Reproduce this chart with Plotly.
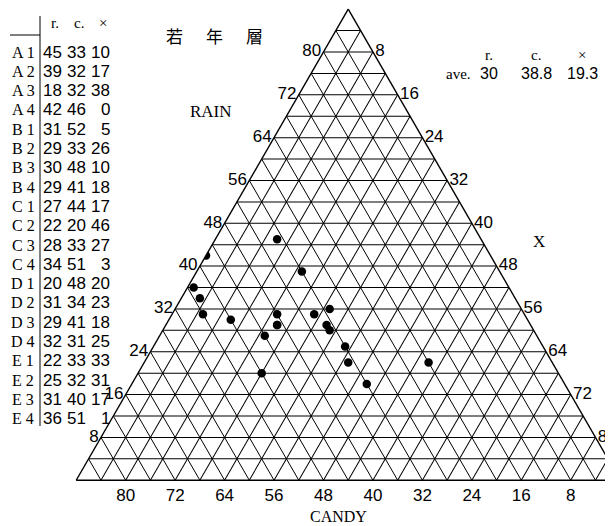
import plotly.graph_objects as go

# ---- data ----
names = ["A1", "A2", "A3", "A4", "B1", "B2", "B3", "B4", "C1", "C2",
         "C3", "C4", "D1", "D2", "D3", "D4", "E1", "E2", "E3", "E4"]
rain = [45, 39, 18, 42, 31, 29, 30, 29, 27, 22, 28, 34, 20, 31, 29, 32, 22, 25, 31, 36]
candy = [33, 32, 32, 46, 52, 33, 48, 41, 44, 20, 33, 51, 48, 34, 41, 31, 33, 32, 40, 51]
xval = [10, 17, 38, 0, 5, 26, 10, 18, 17, 46, 27, 3, 20, 23, 18, 25, 33, 31, 17, 1]
total = 88
col_heads = ["r.", "c.", "×"]
ave_vals = ["30", "38.8", "19.3"]
title_chars = ["若", "年", "層"]
grid_vals = list(range(4, 88, 4))
grid_text = [str(v) if v % 8 == 0 else "" for v in grid_vals]

NUM_FONT = "Liberation Sans Narrow, Arial Narrow, Liberation Sans, sans-serif"
SERIF = "Liberation Serif, Times New Roman, serif"

fig = go.Figure()
fig.add_trace(go.Scatterternary(
    a=rain, b=candy, c=xval, mode="markers",
    marker=dict(color="black", size=8.5),
    hovertext=names, showlegend=False,
))

axis_common = dict(
    tickmode="array", tickvals=grid_vals, ticktext=grid_text,
    ticks="", ticklen=0, showgrid=True, gridcolor="black", gridwidth=1.2,
    linecolor="black", linewidth=1.4, min=0,
    tickfont=dict(family=NUM_FONT, size=17, color="black"),
    title=dict(text=""),
)

fig.update_layout(
    width=613, height=526,
    margin=dict(l=0, r=0, t=0, b=0),
    paper_bgcolor="white",
    ternary=dict(
        sum=total,
        domain=dict(x=[0.1113, 0.9987], y=[0.10, 1.0]),
        bgcolor="white",
        aaxis=axis_common,
        baxis=axis_common,
        caxis=axis_common,
    ),
)

ann = []
# axis titles
ann.append(dict(x=203, y=103, text="RAIN", font=dict(family=SERIF, size=17, color="black")))
ann.append(dict(x=330, y=508, text="CANDY", font=dict(family=SERIF, size=16, color="black")))
ann.append(dict(x=531, y=234, text="X", font=dict(family=SERIF, size=17, color="black")))
for i, ch in enumerate(title_chars):
    ann.append(dict(x=166 + 40 * i, y=27, text=ch,
                    font=dict(family="Noto Sans CJK JP", size=17, color="black")))

# average block
avg_x = [481, 528, 574]
for i, h in enumerate(col_heads):
    ann.append(dict(x=avg_x[i], y=47, text=h, font=dict(family=SERIF, size=15, color="black")))
    ann.append(dict(x=avg_x[i], y=66, text=ave_vals[i], font=dict(family=NUM_FONT, size=16, color="black")))
ann.append(dict(x=450, y=66, text="ave.", font=dict(family=SERIF, size=15, color="black")))

# left table
row_y0 = 44
row_dy = 19.3
tab_right = [56, 80, 104]
for i, h in enumerate(col_heads):
    ann.append(dict(x=tab_right[i] - 9, y=15, text=h, font=dict(family=SERIF, size=15, color="black")))
for j, nm in enumerate(names):
    y = row_y0 + row_dy * j
    ann.append(dict(x=15, y=y, text=nm[0] + " " + nm[1],
                    font=dict(family=SERIF, size=16, color="black")))
    vals = [rain[j], candy[j], xval[j]]
    for i, v in enumerate(vals):
        ann.append(dict(x=tab_right[i], y=y, text=str(v), xanchor="right",
                        font=dict(family=NUM_FONT, size=17, color="black")))

for a in ann:
    a.setdefault("xanchor", "center")
    a.update(xref="paper", yref="paper", showarrow=False, yanchor="middle")
    a["x"] = a["x"] / 613
    a["y"] = 1 - a["y"] / 526

fig.update_layout(annotations=ann)

shapes = [
    dict(type="line", xref="paper", yref="paper", x0=32 / 613, x1=32 / 613,
         y0=1 - 8 / 526, y1=1 - 418 / 526, line=dict(color="black", width=1)),
    dict(type="line", xref="paper", yref="paper", x0=2 / 613, x1=32 / 613,
         y0=1 - 27 / 526, y1=1 - 27 / 526, line=dict(color="black", width=1)),
]
fig.update_layout(shapes=shapes)

fig.write_html("out.html")
